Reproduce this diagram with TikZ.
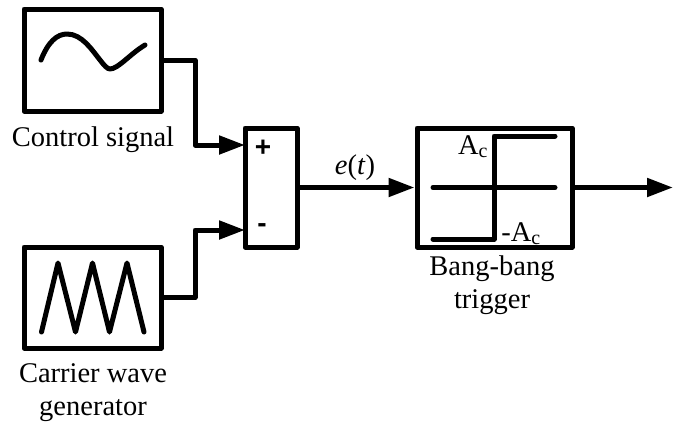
\documentclass[tikz,border=0pt]{standalone}
\usepackage{fontspec}
\setmainfont{Liberation Serif}
\newfontfamily\signfont{Liberation Sans}
\usetikzlibrary{arrows.meta}

\begin{document}
\begin{tikzpicture}[x=1pt, y=-1pt, line join=round,
    block/.style={draw, line width=5pt, inner sep=0pt},
    wire/.style={line width=5pt},
    feed/.style={wire, -{Triangle[length=26pt, width=18pt]}},
    sketch/.style={line width=5pt, line cap=round},
    caption/.style={font=\fontsize{28.5}{28.5}\selectfont, inner sep=0pt, anchor=base},
    sign/.style={font=\signfont\bfseries\fontsize{28}{28}\selectfont, inner sep=0pt}]
  \useasboundingbox (0,0) rectangle (682,423);

  \node[block, minimum width=137pt, minimum height=102pt] (control) at (92.5,60) {};
  \node[block, minimum width=137pt, minimum height=101pt] (carrier) at (92.5,297.5) {};
  \node[block, minimum width=52pt, minimum height=119pt] (sum) at (271,187.5) {};
  \node[block, minimum width=155pt, minimum height=119pt] (trigger) at (494.5,187.5) {};

  \coordinate (plusin) at (245,145);
  \coordinate (minusin) at (245,230);
  \coordinate (upper) at (195,100);
  \coordinate (lower) at (195,260);
  \coordinate (out) at (673,187.5);

  \draw[feed] (control.east) -| (upper) |- (plusin);
  \draw[feed] (carrier.east) -| (lower) |- (minusin);
  \draw[feed] (sum.east) -- (trigger.west);
  \draw[feed] (trigger.east) -- (out);

  % symbols inside the blocks
  \draw[sketch] (41,60) .. controls (48,42) and (57,34) .. (67,34)
    .. controls (82,34) and (92,50) .. (100,60) .. controls (104,65) and (107,69) .. (110,69)
    .. controls (118,69) and (130,54) .. (145,45);
  \draw[sketch] (41.5,332) -- (58,263) -- (75.5,332) -- (92.5,263) -- (109.5,332) -- (127,263) -- (144,332);
  \draw[sketch] (433,239) -- (494,239) -- (494,136) -- (555,136);
  \draw[sketch] (433,187.5) -- (555,187.5);

  \node[caption] (controltext) at (93,146) {Control signal};
  \node[caption] (carriertext) at (93,382) {Carrier wave};
  \node[caption] (generatortext) at (93,415) {generator};
  \node[caption] (bangtext) at (492,275) {Bang-bang};
  \node[caption] (triggertext) at (492,308) {trigger};
  \node[caption] (error) at (355,174) {\textit{e}(\textit{t})};
  \node[caption] (high) at (473,154) {A\textsubscript{c}};
  \node[caption] (low) at (521,241) {-A\textsubscript{c}};
  \node[sign] (plus) at (263,148) {+};
  \node[sign] (minus) at (262,228) {-};
\end{tikzpicture}
\end{document}
